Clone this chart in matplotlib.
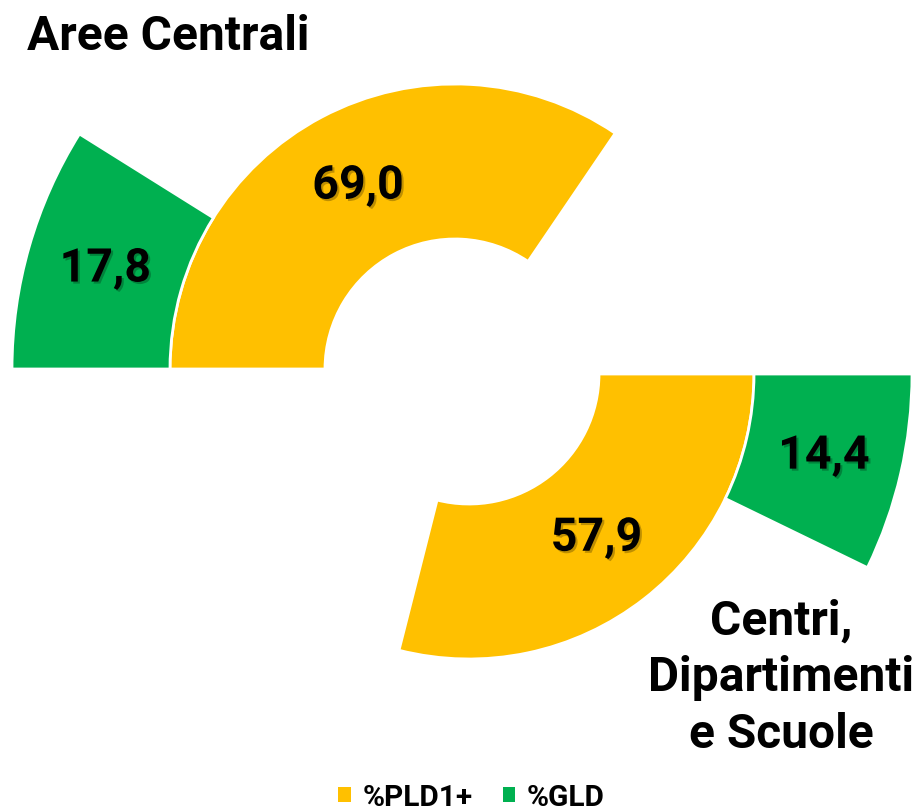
import numpy as np
import matplotlib
matplotlib.use("Agg")
import matplotlib.pyplot as plt
from matplotlib.patches import Patch
import matplotlib.patheffects as pe

plt.rcParams['font.family'] = ['Roboto', 'DejaVu Sans']

# Percentages per organisational area
series_names = ["%PLD1+", "%GLD"]
series_colors = ["#FFC000", "#00B050"]
areas = ["Aree Centrali", "Centri,\nDipartimenti\ne Scuole"]
pld_values = [69.0, 57.9]
gld_values = [17.8, 14.4]

fig = plt.figure(figsize=(9.18, 8.12), dpi=100)
ax = fig.add_axes([0, 0, 1, 1])

R_IN, R_MID, R_OUT = 130, 285, 443
# (center, start angle) of each half ring, in pixel-like data units
layouts = [((455, 812 - 370), 180), ((469, 812 - 375), 0)]

label_fx = [pe.withSimplePatchShadow(offset=(1.5, -1.5), shadow_rgbFace="black", alpha=0.25)]

for i, ((cx, cy), start) in enumerate(layouts):
    rings = [(pld_values[i], series_colors[0], R_MID, R_MID - R_IN),
             (gld_values[i], series_colors[1], R_OUT, R_OUT - R_MID)]
    for val, col, rad, width in rings:
        wedges, _ = ax.pie([val, 200 - val], colors=[col, "none"], startangle=start,
                           counterclock=False, radius=rad, center=(cx, cy),
                           wedgeprops=dict(width=width, edgecolor="white", linewidth=2))
        wedges[1].set_visible(False)
        mid = np.deg2rad(start - val / 200 * 360 / 2)
        rmid = rad - width / 2
        ax.text(cx + rmid * np.cos(mid), cy + rmid * np.sin(mid),
                f"{val:.1f}".replace(".", ","), ha="center", va="center",
                fontsize=33.5, fontweight="bold", color="black", path_effects=label_fx)

ax.text(27, 812 - 50, areas[0], ha="left", va="baseline",
        fontsize=34.5, fontweight="bold", color="black")
for k, line in enumerate(areas[1].split("\n")):
    ax.text(781, 812 - (635 + 56.5 * k), line, ha="center", va="baseline",
            fontsize=34.5, fontweight="bold", color="black")

ax.set_xlim(0, 918)
ax.set_ylim(0, 812)
ax.set_aspect("equal")
ax.axis("off")

handles = [Patch(facecolor=c, edgecolor="none", label=n) for n, c in zip(series_names, series_colors)]
leg = fig.legend(handles=handles, loc="center", bbox_to_anchor=(471.5 / 918, 14 / 812),
                 ncol=2, frameon=False, handlelength=0.42, handleheight=0.42,
                 handletextpad=0.4, columnspacing=1.0, borderpad=0,
                 prop=dict(family="Roboto", weight="bold", size=21.5))

fig.savefig("out.png", dpi=100, facecolor="white")
